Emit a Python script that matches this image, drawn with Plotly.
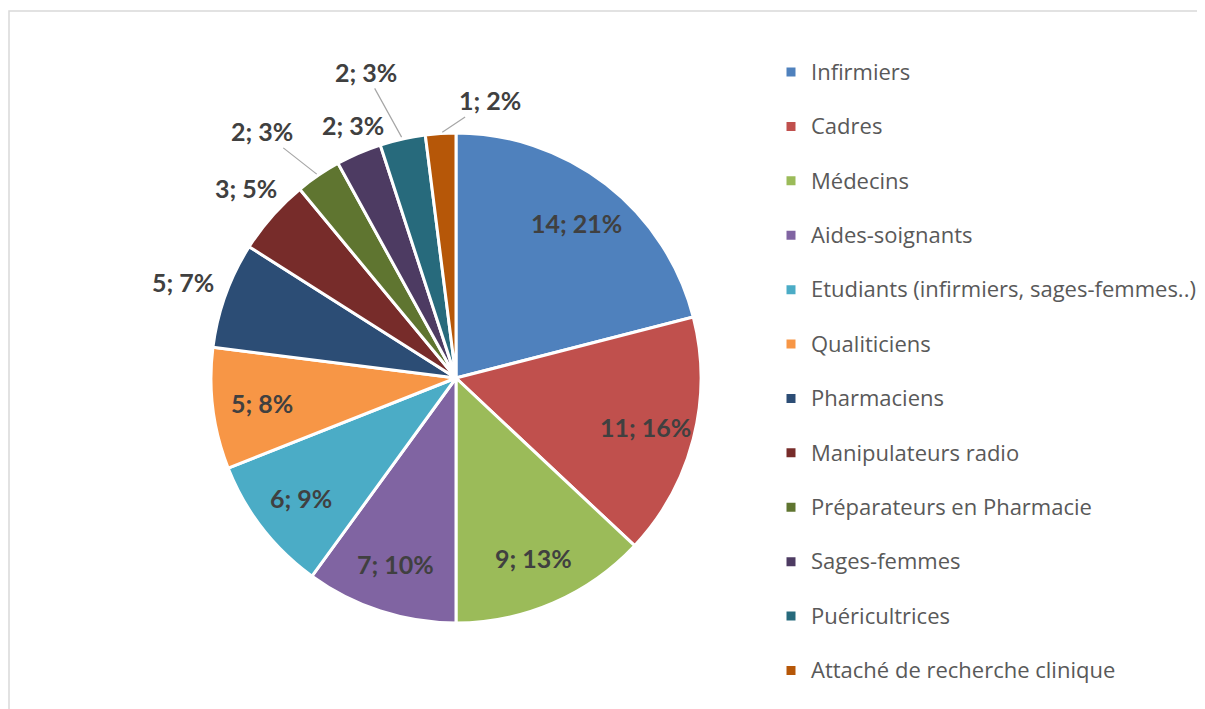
import math
import plotly.graph_objects as go

categories = ["Infirmiers", "Cadres", "Médecins", "Aides-soignants",
              "Etudiants (infirmiers, sages-femmes..)", "Qualiticiens", "Pharmaciens",
              "Manipulateurs radio", "Préparateurs en Pharmacie", "Sages-femmes",
              "Puéricultrices", "Attaché de recherche clinique"]
counts = [14, 11, 9, 7, 6, 5, 5, 3, 2, 2, 2, 1]
percents = [21, 16, 13, 10, 9, 8, 7, 5, 3, 3, 3, 2]
colors = ["#4F81BD", "#C0504D", "#9BBB59", "#8064A2", "#4BACC6", "#F79646",
          "#2C4D75", "#772C2A", "#5F7530", "#4D3B62", "#276A7C", "#B65708"]

# label layout (style): None = inside label, else pixel offset of outside label
# from the slice's outer edge, and whether a leader line is drawn
label_layout = [None, None, None, None, None, None,
                (-42, -13, False), (-26, -28, False), (-56, -44, True),
                (-6, -28, False), (-37, -67, True), (49, -33, True)]

W, H = 1197, 701
dom_x = [203 / W, 693 / W]
dom_y = [86 / H, 576 / H]

labels_text = [f"{c}; {p}%" for c, p in zip(counts, percents)]
legend_labels = ["&nbsp;<br><span style='font-size:22px'>" + c + "</span>" for c in categories]

lab_font = dict(family="Lato", size=25, color="#404040", weight="bold")

fig = go.Figure(go.Pie(
    labels=legend_labels,
    values=percents,
    textinfo="none",
    sort=False,
    direction="clockwise",
    rotation=0,
    marker=dict(colors=colors, line=dict(color="white", width=3)),
    domain=dict(x=dom_x, y=dom_y),
    hoverinfo="label+value",
))

total = sum(percents)
cx = (dom_x[0] + dom_x[1]) / 2
cy = (dom_y[0] + dom_y[1]) / 2
r_px = (dom_x[1] - dom_x[0]) * W / 2
cum = 0
annotations = []
for val, txt, lay in zip(percents, labels_text, label_layout):
    mid = (cum + val / 2) / total * 2 * math.pi
    cum += val
    if lay is None:
        f = 0.8
        annotations.append(dict(x=cx + f * r_px * math.sin(mid) / W,
                                y=cy + f * r_px * math.cos(mid) / H,
                                xref="paper", yref="paper", text=txt,
                                showarrow=False, font=lab_font,
                                xanchor="center", yanchor="middle"))
    else:
        ax, ay, leader = lay
        annotations.append(dict(x=cx + r_px * math.sin(mid) / W,
                                y=cy + r_px * math.cos(mid) / H,
                                xref="paper", yref="paper", text=txt,
                                showarrow=True, ax=ax, ay=ay,
                                arrowhead=0, arrowwidth=1.2, standoff=2,
                                arrowcolor="#A6A6A6" if leader else "rgba(0,0,0,0)",
                                font=lab_font, xanchor="center", yanchor="middle"))

fig.update_layout(
    width=W, height=H,
    margin=dict(l=0, r=0, t=0, b=0),
    paper_bgcolor="white",
    showlegend=True,
    legend=dict(x=763 / W, xanchor="left", y=1 - 19 / H, yanchor="top",
                font=dict(family="Open Sans", size=19.77, color="#595959"),
                valign="bottom", bgcolor="rgba(0,0,0,0)"),
    annotations=annotations,
    shapes=[dict(type="rect", xref="paper", yref="paper",
                 x0=1 / W, x1=1.2, y0=-0.2, y1=1 - 3 / H,
                 line=dict(color="#D9D9D9", width=1.5), layer="below")],
)

fig.write_html("out.html")
